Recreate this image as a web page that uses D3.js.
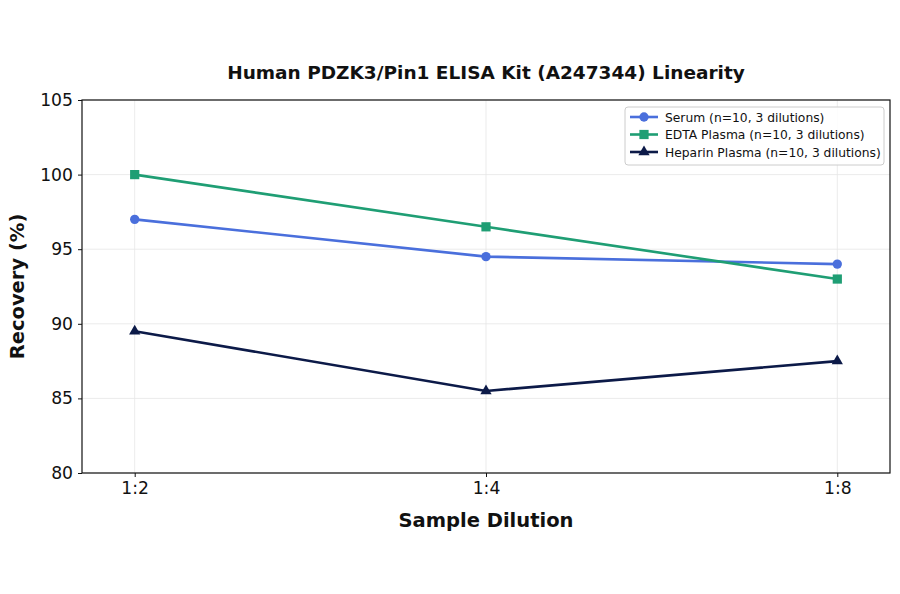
<!DOCTYPE html>
<html><head><meta charset="utf-8">
<script src="https://cdn.jsdelivr.net/npm/d3@7"></script>
<style>body{margin:0;background:#fff}svg{font-family:"DejaVu Sans",sans-serif}</style>
</head><body><svg id="c" width="900" height="594"></svg>
<script>
const categories = ["1:2","1:4","1:8"];
const serum = [97, 94.5, 94];
const edta = [100, 96.5, 93];
const heparin = [89.5, 85.5, 87.5];
const yTicks = [80,85,90,95,100,105];
const seriesNames = ["Serum (n=10, 3 dilutions)","EDTA Plasma (n=10, 3 dilutions)","Heparin Plasma (n=10, 3 dilutions)"];
const colors = ["#4a6fdc","#1f9e74","#0c1a48"];
const shapes = [d3.symbolCircle, d3.symbolSquare, d3.symbolTriangle];
const sizes = [68, 85, 55];

const svg = d3.select("#c");
const L=82,R=890,T=100,B=473;
const x = d3.scalePoint().domain(categories).range([L,R]).padding(0.15);
const y = d3.scaleLinear().domain([80,105]).range([B,T]);

// grid
svg.append("g").selectAll("line").data(yTicks).join("line")
 .attr("x1",L).attr("x2",R).attr("y1",d=>y(d)).attr("y2",d=>y(d))
 .attr("stroke","#e6e6e6").attr("stroke-width",0.8);
svg.append("g").selectAll("line").data(categories).join("line")
 .attr("x1",d=>x(d)).attr("x2",d=>x(d)).attr("y1",T).attr("y2",B)
 .attr("stroke","#e6e6e6").attr("stroke-width",0.8);

const yAxis = svg.append("g").attr("transform",`translate(${L},0)`)
 .call(d3.axisLeft(y).tickValues(yTicks).tickSize(4).tickPadding(5));
const xAxis = svg.append("g").attr("transform",`translate(0,${B})`)
 .call(d3.axisBottom(x).tickSize(4).tickPadding(5));
[yAxis,xAxis].forEach(a=>{a.select(".domain").remove();a.selectAll("text").attr("font-size",17.2).attr("fill","#111").attr("font-family","DejaVu Sans");a.selectAll("line").attr("stroke","#111");});

svg.append("rect").attr("x",L).attr("y",T).attr("width",R-L).attr("height",B-T)
 .attr("fill","none").attr("stroke","#111").attr("stroke-width",1.2);

const data=[serum,edta,heparin];
const line=d3.line().x((d,i)=>x(categories[i])).y(d=>y(d));
data.forEach((s,k)=>{
 svg.append("path").datum(s).attr("d",line).attr("fill","none").attr("stroke",colors[k]).attr("stroke-width",2.6);
 svg.append("g").selectAll("path").data(s).join("path")
  .attr("transform",(d,i)=>`translate(${x(categories[i])},${y(d)})`)
  .attr("d",d3.symbol().type(shapes[k]).size(sizes[k])).attr("fill",colors[k]);
});

svg.append("text").attr("x",486).attr("y",79).attr("text-anchor","middle")
 .attr("font-size",18.5).attr("font-weight","bold").attr("fill","#111").text("Human PDZK3/Pin1 ELISA Kit (A247344) Linearity");
svg.append("text").attr("x",486).attr("y",527).attr("text-anchor","middle")
 .attr("font-size",19.5).attr("font-weight","bold").attr("fill","#111").text("Sample Dilution");
svg.append("text").attr("transform",`translate(24,${(T+B)/2}) rotate(-90)`).attr("text-anchor","middle")
 .attr("font-size",19.5).attr("font-weight","bold").attr("fill","#111").text("Recovery (%)");

// legend
const lg=svg.append("g").attr("transform","translate(625,107)");
lg.append("rect").attr("width",259).attr("height",58).attr("rx",3).attr("fill","#fff").attr("fill-opacity",0.85).attr("stroke","#ccc");
seriesNames.forEach((n,k)=>{
 const yy=10+k*17.5;
 lg.append("line").attr("x1",5).attr("x2",33).attr("y1",yy).attr("y2",yy).attr("stroke",colors[k]).attr("stroke-width",2.6);
 lg.append("path").attr("transform",`translate(19,${yy})`).attr("d",d3.symbol().type(shapes[k]).size(sizes[k])).attr("fill",colors[k]);
 lg.append("text").attr("x",40).attr("y",yy+4.5).attr("font-size",12.3).attr("fill","#111").text(n);
});
</script></body></html>
